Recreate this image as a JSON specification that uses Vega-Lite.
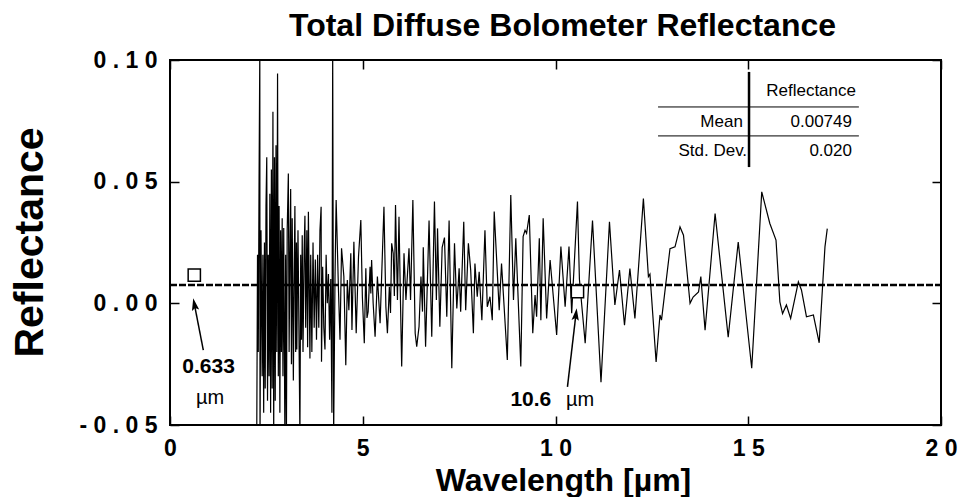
{
  "$schema": "https://vega.github.io/schema/vega-lite/v6.json",
  "width": 771,
  "height": 365,
  "autosize": {"type": "none"},
  "padding": {"left": 170, "top": 60, "right": 30, "bottom": 72},
  "background": "white",
  "title": {"text": "Total Diffuse Bolometer Reflectance", "font": "Liberation Sans", "fontSize": 32, "fontWeight": "bold", "color": "black", "anchor": "middle", "baseline": "alphabetic", "offset": -19, "dx": 7},
  "config": {
    "font": "Liberation Sans",
    "view": {"stroke": "black", "strokeWidth": 2},
    "axis": {"grid": false, "domain": false, "tickColor": "black", "tickWidth": 1.5, "tickSize": -9, "labelFont": "Liberation Sans", "labelFontWeight": "bold", "labelFontSize": 23, "labelColor": "black", "titleColor": "black", "titleFont": "Liberation Sans", "titleFontWeight": "bold", "labelOverlap": false}
  },
  "datasets": {
    "spectrum": [
      {"wl":2.25,"r":-0.055},{"wl":2.27,"r":0.02},{"wl":2.29,"r":-0.02},{"wl":2.31,"r":0.05},{"wl":2.33,"r":0.105},{"wl":2.335,"r":-0.055},{"wl":2.36,"r":0.03},{"wl":2.39,"r":-0.03},{"wl":2.41,"r":0.02},{"wl":2.43,"r":-0.045},{"wl":2.45,"r":0.025},{"wl":2.47,"r":-0.035},{"wl":2.49,"r":0.04},{"wl":2.51,"r":0.06},{"wl":2.53,"r":-0.04},{"wl":2.55,"r":0.02},{"wl":2.57,"r":-0.03},{"wl":2.59,"r":0.045},{"wl":2.61,"r":-0.045},{"wl":2.63,"r":0.055},{"wl":2.65,"r":-0.035},{"wl":2.67,"r":0.0787},{"wl":2.69,"r":-0.055},{"wl":2.71,"r":0.06},{"wl":2.73,"r":-0.04},{"wl":2.75,"r":0.065},{"wl":2.77,"r":-0.02},{"wl":2.79,"r":0.0945},{"wl":2.81,"r":-0.03},{"wl":2.83,"r":0.04},{"wl":2.85,"r":-0.045},{"wl":2.87,"r":0.03},{"wl":2.89,"r":-0.02},{"wl":2.91,"r":0.035},{"wl":2.93,"r":-0.03},{"wl":2.95,"r":0.031},{"wl":2.98,"r":-0.055},{"wl":3.0,"r":0.02},{"wl":3.02,"r":-0.055},{"wl":3.04,"r":0.03},{"wl":3.07,"r":0.0534},{"wl":3.09,"r":-0.02},{"wl":3.11,"r":0.02},{"wl":3.13,"r":0.047},{"wl":3.15,"r":-0.025},{"wl":3.17,"r":0.035},{"wl":3.2,"r":-0.0317},{"wl":3.22,"r":0.01},{"wl":3.24,"r":0.04},{"wl":3.26,"r":-0.02},{"wl":3.28,"r":0.025},{"wl":3.29,"r":-0.019},{"wl":3.32,"r":0.03},{"wl":3.35,"r":-0.02},{"wl":3.37,"r":-0.055},{"wl":3.39,"r":0.02},{"wl":3.41,"r":-0.015},{"wl":3.43,"r":0.028},{"wl":3.45,"r":-0.02},{"wl":3.48,"r":0.022},{"wl":3.5,"r":0.036},{"wl":3.52,"r":-0.01},{"wl":3.55,"r":0.03},{"wl":3.57,"r":-0.018},{"wl":3.59,"r":0.0376},{"wl":3.63,"r":-0.0227},{"wl":3.65,"r":0.02},{"wl":3.68,"r":-0.02},{"wl":3.71,"r":0.025},{"wl":3.74,"r":-0.01},{"wl":3.77,"r":0.018},{"wl":3.8,"r":-0.015},{"wl":3.83,"r":0.02},{"wl":3.86,"r":-0.01},{"wl":3.89,"r":0.03},{"wl":3.92,"r":0.0397},{"wl":3.93,"r":-0.024},{"wl":3.96,"r":0.015},{"wl":3.99,"r":-0.01},{"wl":4.02,"r":-0.019},{"wl":4.05,"r":0.02},{"wl":4.08,"r":0.0},{"wl":4.11,"r":0.012},{"wl":4.14,"r":-0.015},{"wl":4.17,"r":0.01},{"wl":4.2,"r":-0.045},{"wl":4.22,"r":0.105},{"wl":4.245,"r":-0.055},{"wl":4.28,"r":0.01},
      {"wl":4.31,"r":0.0425},{"wl":4.37,"r":0.0055},{"wl":4.41,"r":-0.015},{"wl":4.45,"r":0.0226},{"wl":4.51,"r":0.011},{"wl":4.56,"r":-0.0254},{"wl":4.6,"r":0.0096},{"wl":4.64,"r":-0.0028},{"wl":4.69,"r":0.0206},{"wl":4.72,"r":-0.011},{"wl":4.77,"r":0.0253},{"wl":4.83,"r":-0.0123},{"wl":4.89,"r":0.0192},{"wl":4.95,"r":0.0342},{"wl":4.99,"r":0.0027},{"wl":5.04,"r":-0.0164},{"wl":5.08,"r":0.0144},{"wl":5.11,"r":-0.006},{"wl":5.14,"r":-0.0034},{"wl":5.19,"r":0.015},{"wl":5.21,"r":0.004},{"wl":5.23,"r":0.0178},{"wl":5.27,"r":0.0},{"wl":5.32,"r":-0.0137},{"wl":5.38,"r":0.011},{"wl":5.45,"r":-0.0082},{"wl":5.49,"r":0.011},{"wl":5.55,"r":0.0397},{"wl":5.6,"r":-0.0014},{"wl":5.64,"r":-0.0123},{"wl":5.69,"r":0.0068},{"wl":5.72,"r":-0.004},{"wl":5.75,"r":0.0247},{"wl":5.79,"r":0.0206},{"wl":5.82,"r":0.003},{"wl":5.85,"r":0.0404},{"wl":5.9,"r":0.0014},{"wl":5.94,"r":0.0356},{"wl":5.97,"r":0.008},{"wl":6.01,"r":-0.026},{"wl":6.07,"r":0.0206},{"wl":6.12,"r":0.0014},{"wl":6.16,"r":0.012},{"wl":6.2,"r":0.0226},{"wl":6.24,"r":0.0014},{"wl":6.3,"r":0.0425},{"wl":6.36,"r":-0.0123},
      {"wl":6.4,"r":-0.0178},{"wl":6.46,"r":-0.0096},{"wl":6.51,"r":0.011},{"wl":6.55,"r":-0.0034},{"wl":6.57,"r":0.023},{"wl":6.63,"r":-0.0178},{"wl":6.72,"r":0.034},{"wl":6.79,"r":-0.0137},{"wl":6.86,"r":0.0418},{"wl":6.91,"r":0.0014},{"wl":6.94,"r":0.0308},{"wl":7.0,"r":-0.0096},{"wl":7.06,"r":0.023},{"wl":7.12,"r":0.027},{"wl":7.18,"r":-0.0055},{"wl":7.24,"r":0.034},{"wl":7.31,"r":-0.0267},{"wl":7.38,"r":0.0247},{"wl":7.44,"r":-0.0021},{"wl":7.5,"r":0.0144},{"wl":7.54,"r":-0.0034},{"wl":7.62,"r":0.0335},{"wl":7.67,"r":-0.0028},{"wl":7.74,"r":0.0247},{"wl":7.8,"r":0.0137},{"wl":7.87,"r":-0.0123},{"wl":7.91,"r":0.0164},{"wl":7.97,"r":0.0027},{"wl":8.02,"r":0.013},{"wl":8.09,"r":-0.0069},{"wl":8.17,"r":0.03},{"wl":8.23,"r":-0.0014},{"wl":8.3,"r":0.0027},{"wl":8.36,"r":-0.0069},{"wl":8.41,"r":0.0377},{"wl":8.47,"r":0.019},{"wl":8.54,"r":-0.0028},{"wl":8.6,"r":0.0164},{"wl":8.75,"r":-0.0233},{"wl":8.84,"r":0.0445},{"wl":8.91,"r":0.0014},{"wl":8.97,"r":0.0267},{"wl":9.1,"r":-0.026},{"wl":9.16,"r":0.0274},{"wl":9.21,"r":0.03},{"wl":9.25,"r":0.0288},{"wl":9.32,"r":0.0363},{"wl":9.41,"r":-0.0123},{"wl":9.47,"r":0.0034},{"wl":9.51,"r":-0.0055},{"wl":9.58,"r":0.0267},{"wl":9.62,"r":-0.0069},{"wl":9.68,"r":0.035},{"wl":9.77,"r":-0.0062},{"wl":9.86,"r":0.0178},{"wl":10.03,"r":-0.013},{"wl":10.14,"r":0.0233},{"wl":10.25,"r":-0.0014},{"wl":10.35,"r":0.0233},{"wl":10.42,"r":-0.0041},{"wl":10.57,"r":0.0418},
      {"wl":10.62,"r":0.01},{"wl":10.77,"r":-0.0164},{"wl":10.96,"r":0.034},{"wl":11.18,"r":-0.0324},{"wl":11.4,"r":0.0335},{"wl":11.54,"r":-0.0007},{"wl":11.66,"r":0.0137},{"wl":11.79,"r":-0.009},{"wl":11.93,"r":0.0143},{"wl":12.06,"r":-0.0062},{"wl":12.28,"r":0.0431},{"wl":12.41,"r":0.011},{"wl":12.45,"r":0.012},{"wl":12.61,"r":-0.0241},{"wl":12.71,"r":-0.0048},{"wl":12.75,"r":-0.0069},{"wl":12.97,"r":0.0225},{"wl":13.1,"r":0.0232},{"wl":13.23,"r":0.0314},{"wl":13.32,"r":0.028},{"wl":13.49,"r":0.0},{"wl":13.57,"r":0.0026},{"wl":13.71,"r":0.0047},{"wl":13.77,"r":0.011},{"wl":13.88,"r":-0.011},{"wl":14.14,"r":0.0369},{"wl":14.48,"r":-0.0139},{"wl":14.74,"r":0.0252},{"wl":15.09,"r":-0.0267},{"wl":15.35,"r":0.0458},{"wl":15.56,"r":0.0328},{"wl":15.72,"r":0.026},{"wl":15.82,"r":0.0006},{"wl":15.89,"r":-0.0042},{"wl":15.99,"r":-0.0007},{"wl":16.1,"r":-0.0062},{"wl":16.3,"r":0.0088},{"wl":16.38,"r":0.0055},{"wl":16.51,"r":-0.0055},{"wl":16.69,"r":-0.0048},{"wl":16.84,"r":-0.0162},{"wl":16.99,"r":0.0232},{"wl":17.05,"r":0.0307}
    ],
    "mean": [{"wl0": 0, "wl1": 20, "mean": 0.00749}],
    "squares": [{"wl": 0.63, "r": 0.0116, "label": "0.633 µm"}, {"wl": 10.57, "r": 0.0048, "label": "10.6 µm"}],
    "shafts": [{"x0": 0.864, "y0": -0.0192, "x1": 0.633, "y1": -0.0004}, {"x0": 10.31, "y0": -0.0343, "x1": 10.53, "y1": -0.0045}],
    "head1": [{"wl": 0.633, "r": -0.0004}],
    "head2": [{"wl": 10.53, "r": -0.0045}],
    "boldText": [{"wl": 1.0, "r": -0.0287, "text": "0.633"}, {"wl": 9.36, "r": -0.0422, "text": "10.6"}],
    "normText": [{"wl": 1.04, "r": -0.0414, "text": "µm"}, {"wl": 10.64, "r": -0.0422, "text": "µm"}],
    "tableV": [{"x": 15.02, "y0": 0.056, "y1": 0.0951}],
    "tableH": [{"x0": 12.66, "x1": 17.87, "y": 0.0807}, {"x0": 12.66, "x1": 17.87, "y": 0.0688}],
    "tableRight": [{"x": 14.86, "y": 0.0745, "text": "Mean"}, {"x": 14.97, "y": 0.0626, "text": "Std. Dev."}, {"x": 17.69, "y": 0.0745, "text": "0.00749"}, {"x": 17.69, "y": 0.0626, "text": "0.020"}],
    "tableHead": [{"x": 16.63, "y": 0.0873, "text": "Reflectance"}]
  },
  "resolve": {"axis": {"x": "independent", "y": "independent"}},
  "layer": [
    {
      "data": {"name": "spectrum"},
      "mark": {"type": "line", "color": "black", "strokeWidth": 1.2, "clip": true},
      "encoding": {
        "x": {"field": "wl", "type": "quantitative", "scale": {"domain": [0, 20], "nice": false, "zero": false},
              "axis": {"orient": "bottom", "values": [0, 5, 10, 15, 20], "format": "d", "labelExpr": "join(split(datum.label, ''), ' ')", "labelFlush": false, "labelPadding": 21, "title": "Wavelength [µm]", "titleFontSize": 32, "titleX": 393, "titleY": 65, "titleBaseline": "alphabetic", "titleAlign": "center"}},
        "y": {"field": "r", "type": "quantitative", "scale": {"domain": [-0.05, 0.1], "nice": false, "zero": false},
              "axis": {"orient": "left", "values": [-0.05, 0, 0.05, 0.1], "format": ".2f", "labelExpr": "join(split(replace(datum.label, '−', '-'), ''), ' ')", "labelPadding": 22, "title": "Reflectance", "titleFontSize": 41, "titleX": -128, "titleY": 182, "titleBaseline": "alphabetic", "titleAlign": "center", "titleAngle": -90}}
      }
    },
    {
      "data": {"name": "mean"},
      "mark": {"type": "rule", "color": "black", "strokeWidth": 2.5, "strokeDash": [7, 2]},
      "encoding": {
        "x": {"field": "wl0", "type": "quantitative", "axis": {"orient": "top", "values": [0, 5, 10, 15, 20], "labels": false, "title": null}},
        "x2": {"field": "wl1"},
        "y": {"field": "mean", "type": "quantitative", "axis": {"orient": "right", "values": [-0.05, 0, 0.05, 0.1], "labels": false, "title": null}}
      }
    },
    {
      "data": {"name": "squares"},
      "mark": {"type": "point", "shape": "square", "size": 150, "filled": true, "fill": "white", "stroke": "black", "strokeWidth": 1.5, "opacity": 1},
      "encoding": {
        "x": {"field": "wl", "type": "quantitative", "axis": null},
        "y": {"field": "r", "type": "quantitative", "axis": null}
      }
    },
    {
      "data": {"name": "shafts"},
      "mark": {"type": "rule", "color": "black", "strokeWidth": 1.5},
      "encoding": {
        "x": {"field": "x0", "type": "quantitative", "axis": null},
        "x2": {"field": "x1"},
        "y": {"field": "y0", "type": "quantitative", "axis": null},
        "y2": {"field": "y1"}
      }
    },
    {
      "data": {"name": "head1"},
      "mark": {"type": "point", "shape": "M0,-1L0.6,1L0,0.6L-0.6,1Z", "size": 150, "filled": true, "color": "black", "opacity": 1, "angle": 349},
      "encoding": {
        "x": {"field": "wl", "type": "quantitative", "axis": null},
        "y": {"field": "r", "type": "quantitative", "axis": null}
      }
    },
    {
      "data": {"name": "head2"},
      "mark": {"type": "point", "shape": "M0,-1L0.6,1L0,0.6L-0.6,1Z", "size": 150, "filled": true, "color": "black", "opacity": 1, "angle": 7},
      "encoding": {
        "x": {"field": "wl", "type": "quantitative", "axis": null},
        "y": {"field": "r", "type": "quantitative", "axis": null}
      }
    },
    {
      "data": {"name": "boldText"},
      "mark": {"type": "text", "font": "Liberation Sans", "fontWeight": "bold", "fontSize": 21, "color": "black", "align": "center", "baseline": "alphabetic"},
      "encoding": {
        "x": {"field": "wl", "type": "quantitative", "axis": null},
        "y": {"field": "r", "type": "quantitative", "axis": null},
        "text": {"field": "text"}
      }
    },
    {
      "data": {"name": "normText"},
      "mark": {"type": "text", "font": "Liberation Sans", "fontSize": 20, "color": "black", "align": "center", "baseline": "alphabetic"},
      "encoding": {
        "x": {"field": "wl", "type": "quantitative", "axis": null},
        "y": {"field": "r", "type": "quantitative", "axis": null},
        "text": {"field": "text"}
      }
    },
    {
      "data": {"name": "tableV"},
      "mark": {"type": "rule", "color": "black", "strokeWidth": 2.5},
      "encoding": {
        "x": {"field": "x", "type": "quantitative", "axis": null},
        "y": {"field": "y0", "type": "quantitative", "axis": null},
        "y2": {"field": "y1"}
      }
    },
    {
      "data": {"name": "tableH"},
      "mark": {"type": "rule", "color": "black", "strokeWidth": 1},
      "encoding": {
        "x": {"field": "x0", "type": "quantitative", "axis": null},
        "x2": {"field": "x1"},
        "y": {"field": "y", "type": "quantitative", "axis": null}
      }
    },
    {
      "data": {"name": "tableRight"},
      "mark": {"type": "text", "font": "Liberation Sans", "fontSize": 17, "color": "black", "align": "right", "baseline": "middle"},
      "encoding": {
        "x": {"field": "x", "type": "quantitative", "axis": null},
        "y": {"field": "y", "type": "quantitative", "axis": null},
        "text": {"field": "text"}
      }
    },
    {
      "data": {"name": "tableHead"},
      "mark": {"type": "text", "font": "Liberation Sans", "fontSize": 17, "color": "black", "align": "center", "baseline": "middle"},
      "encoding": {
        "x": {"field": "x", "type": "quantitative", "axis": null},
        "y": {"field": "y", "type": "quantitative", "axis": null},
        "text": {"field": "text"}
      }
    }
  ]
}
